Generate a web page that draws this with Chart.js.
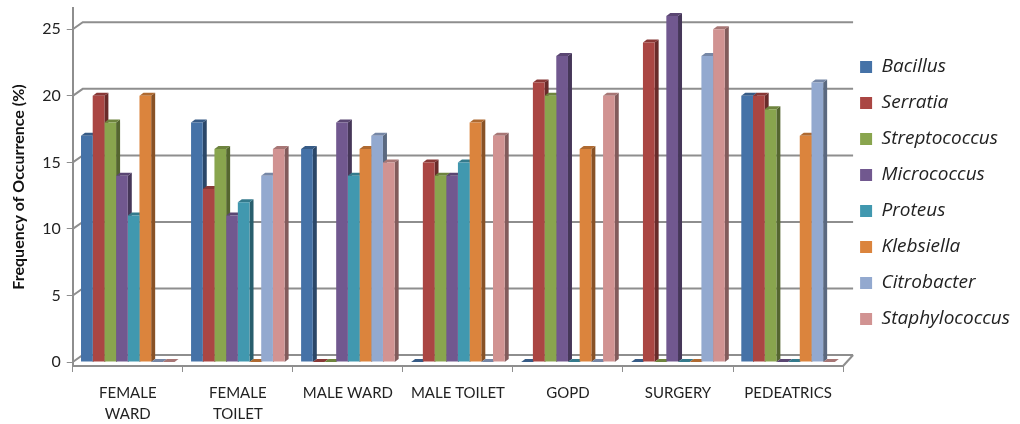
<!DOCTYPE html>
<html>
<head>
<meta charset="utf-8">
<script src="https://cdn.jsdelivr.net/npm/chart.js@4.4.1/dist/chart.umd.min.js"></script>
<style>
  html, body { margin: 0; padding: 0; background: #fff; }
  #wrap { position: relative; width: 1020px; height: 424px; }
</style>
</head>
<body>
<div id="wrap"><canvas id="chart"></canvas></div>
<script>
// sampling sites along the x axis
const sites = [['FEMALE', 'WARD'], ['FEMALE', 'TOILET'], 'MALE WARD', 'MALE TOILET', 'GOPD', 'SURGERY', 'PEDEATRICS'];

// frequency of occurrence (%) per organism, one value per site
const bacillus       = [17, 18, 16,  0,  0,  0, 20];
const serratia       = [20, 13,  0, 15, 21, 24, 20];
const streptococcus  = [18, 16,  0, 14, 20,  0, 19];
const micrococcus    = [14, 11, 18, 14, 23, 26,  0];
const proteus        = [11, 12, 14, 15,  0,  0,  0];
const klebsiella     = [20,  0, 16, 18, 16,  0, 17];
const citrobacter    = [ 0, 14, 17,  0,  0, 23, 21];
const staphylococcus = [ 0, 16, 15, 17, 20, 25,  0];

const yTicks = [0, 5, 10, 15, 20, 25];

const axisGrey = '#8e8e8e';
const wallShift = { x: 10, y: 7 };   // back wall offset
const barDepth = { x: 4, y: 3 };     // side/top face of each bar

function shade(hex, f) {
  const n = parseInt(hex.slice(1), 16);
  const r = Math.round(((n >> 16) & 255) * f);
  const g = Math.round(((n >> 8) & 255) * f);
  const b = Math.round((n & 255) * f);
  return `rgb(${r},${g},${b})`;
}

function poly(ctx, pts) {
  ctx.beginPath();
  ctx.moveTo(pts[0][0], pts[0][1]);
  for (let i = 1; i < pts.length; i++) ctx.lineTo(pts[i][0], pts[i][1]);
  ctx.closePath();
  ctx.fill();
}

// gridlines on the back wall plus the floor edges
const backWall = {
  id: 'backWall',
  beforeDatasetsDraw(chart) {
    const { ctx, chartArea } = chart;
    const y = chart.scales.y;
    const left = chartArea.left, right = chartArea.right;
    ctx.save();
    ctx.strokeStyle = axisGrey;
    ctx.lineWidth = 2;
    yTicks.forEach(v => {
      const py = y.getPixelForValue(v);
      ctx.beginPath();
      ctx.moveTo(left, py);
      ctx.lineTo(left + wallShift.x, py - wallShift.y);
      ctx.lineTo(right + wallShift.x, py - wallShift.y);
      ctx.stroke();
    });
    const floor = chartArea.bottom;
    const back = y.getPixelForValue(0) - wallShift.y;
    ctx.beginPath();
    ctx.moveTo(right, floor);
    ctx.lineTo(right + wallShift.x, back);
    ctx.stroke();
    ctx.restore();
  }
};

// darker side and top faces behind the front of each bar
const barFaces = {
  id: 'barFaces',
  beforeDatasetsDraw(chart) {
    const ctx = chart.ctx;
    const base = chart.scales.y.getPixelForValue(0);
    ctx.save();
    chart.data.datasets.forEach((ds, i) => {
      chart.getDatasetMeta(i).data.forEach(bar => {
        const x0 = bar.x - bar.width / 2, x1 = bar.x + bar.width / 2, top = bar.y;
        ctx.fillStyle = shade(ds.backgroundColor, 0.62);
        poly(ctx, [[x1, top], [x1 + barDepth.x, top - barDepth.y], [x1 + barDepth.x, base - barDepth.y], [x1, base]]);
        ctx.fillStyle = shade(ds.backgroundColor, 0.8);
        poly(ctx, [[x0, top], [x0 + barDepth.x, top - barDepth.y], [x1 + barDepth.x, top - barDepth.y], [x1, top]]);
      });
    });
    ctx.restore();
  }
};

const series = [
  ['Bacillus', bacillus, '#4572A7'],
  ['Serratia', serratia, '#AA4643'],
  ['Streptococcus', streptococcus, '#89A54E'],
  ['Micrococcus', micrococcus, '#71588F'],
  ['Proteus', proteus, '#4198AF'],
  ['Klebsiella', klebsiella, '#DB843D'],
  ['Citrobacter', citrobacter, '#93A9CF'],
  ['Staphylococcus', staphylococcus, '#D19392']
];

new Chart(document.getElementById('chart'), {
  type: 'bar',
  data: {
    labels: sites,
    datasets: series.map(([name, values, color]) => ({
      label: name,
      data: values,
      backgroundColor: color,
      borderWidth: 0,
      categoryPercentage: 0.85,
      barPercentage: 1.0
    }))
  },
  options: {
    responsive: true,
    maintainAspectRatio: false,
    animation: false,
    layout: { padding: { top: 8, left: 9, right: 0, bottom: 0 } },
    plugins: {
      tooltip: { enabled: false },
      legend: {
        position: 'right',
        fullSize: false,
        maxWidth: 177,
        title: { display: true, text: '', padding: 0, font: { size: 10, lineHeight: 1.2 } },
        labels: {
          boxWidth: 12,
          boxHeight: 12,
          padding: 17,
          color: '#222',
          font: { family: 'Open Sans', size: 19, style: 'italic' }
        }
      }
    },
    scales: {
      x: {
        border: { color: axisGrey, width: 2 },
        grid: { drawOnChartArea: false, drawTicks: true, tickLength: 6, color: axisGrey, offset: true },
        ticks: {
          color: '#222',
          maxRotation: 0,
          autoSkip: false,
          padding: 10,
          font: { family: 'Lato', size: 15, lineHeight: 1.45 }
        },
        afterFit(scale) {
          scale.height = 58;
        }
      },
      y: {
        min: -0.3,
        max: 26.6,
        border: { color: axisGrey, width: 2 },
        grid: { drawOnChartArea: false, drawTicks: true, tickLength: 6, color: axisGrey },
        afterBuildTicks(scale) {
          scale.ticks = yTicks.map(v => ({ value: v }));
        },
        afterFit(scale) {
          scale.paddingTop = 0;
        },
        ticks: {
          color: '#222',
          padding: 6,
          font: { family: 'Lato', size: 16 }
        },
        title: {
          display: true,
          text: 'Frequency of Occurrence (%)',
          color: '#111',
          padding: { top: 0, bottom: 8 },
          font: { family: 'Lato', size: 16, weight: 'bold' }
        }
      }
    }
  },
  plugins: [backWall, barFaces]
});
</script>
</body>
</html>
